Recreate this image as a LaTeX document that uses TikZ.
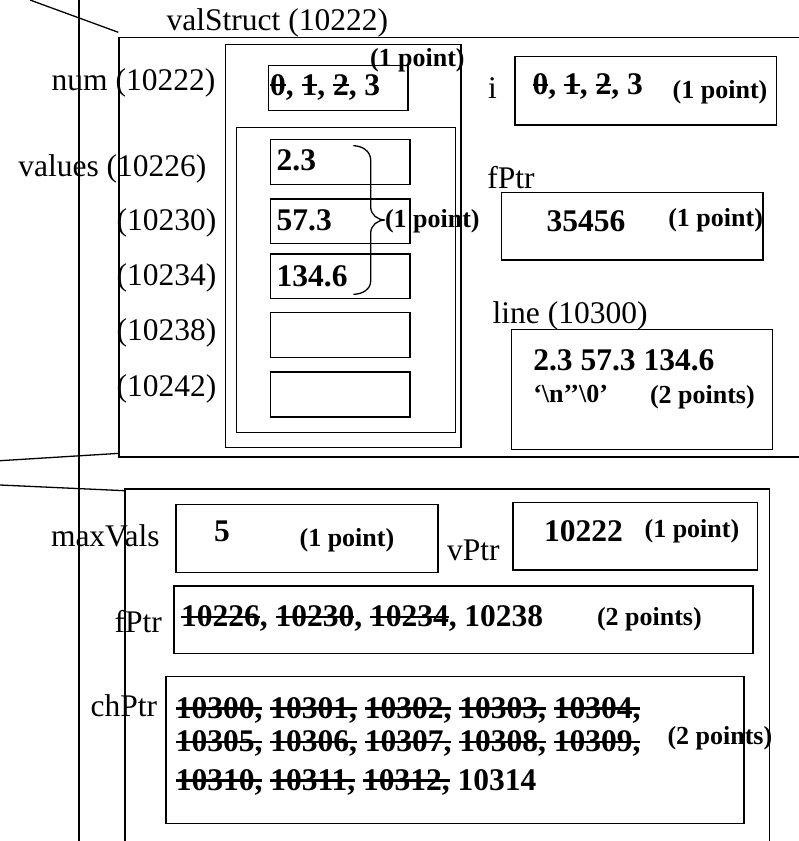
\documentclass[tikz,border=0pt]{standalone}
\usepackage{fontspec}
\setmainfont{Liberation Serif}
\newsavebox\strkbox
% struck-through value: a rule across the middle of the digits
\newcommand\strk[1]{\sbox\strkbox{#1}\rlap{\rule[0.27em]{\wd\strkbox}{0.065em}}\usebox\strkbox}
\tikzset{
  lbl/.style={anchor=base west, inner sep=0pt, outer sep=0pt, font=\fontsize{31.5}{36}\selectfont},
  val/.style={lbl, font=\fontsize{31.5}{36}\selectfont\bfseries},
  pts/.style={lbl, font=\fontsize{26}{30}\selectfont\bfseries},
  quo/.style={lbl, font=\fontsize{26}{30}\selectfont\bfseries},
  box/.style={draw, line width=1.5pt},
  wire/.style={draw, line width=1.3pt},
}
\begin{document}
\begin{tikzpicture}[x=1pt, y=-1pt]
\useasboundingbox (0,0) rectangle (799,841);

% long vertical divider and the slanted guide lines
\coordinate (vtop) at (79,0);
\coordinate (vbot) at (79,841);
\draw[wire] (vtop) -- (vbot);
\coordinate (d1a) at (30,0);
\coordinate (d1b) at (118.3,32.3);
\draw[wire] (d1a) -- (d1b);
\coordinate (d2a) at (0,460.7);
\coordinate (d2b) at (119.7,453.3);
\draw[wire] (d2a) -- (d2b);
\coordinate (d3a) at (0,485);
\coordinate (d3b) at (124.8,490.7);
\draw[wire] (d3a) -- (d3b);

% ---------- valStruct frame ----------
\draw[box] (799,37.3) -- (119,37.3) -- (119,457) -- (799,457);
\node[lbl] (vsname) at (166.7,30.7) {valStruct (10222)};

% struct contents
\draw[box] (225.7,44.3) rectangle (461,447.7);
\draw[box] (236.7,127.7) rectangle (455.7,432.3);

% num
\draw[box] (268.5,65.3) rectangle (408,110.7);
\node[lbl] (numlbl) at (51.7,90) {num (10222)};
\node[val] (numval) at (270,95) {\strk{0}, \strk{1}, \strk{2}, 3};
\node[pts] (numpts) at (370,66) {(1 point)};

% values array
\node[lbl] (vallbl) at (18.3,176.7) {values (10226)};
\draw[box] (270.7,139.3) rectangle (410,184.3);
\draw[box] (270.7,199) rectangle (410,243.3);
\draw[box] (270.7,254) rectangle (410,298.7);
\draw[box] (270.7,312.7) rectangle (410,357.7);
\draw[box] (270.7,372) rectangle (410,417);
\node[val] (v0) at (276.7,170) {2.3};
\node[val] (v1) at (276.7,230) {57.3};
\node[val] (v2) at (276.7,286) {134.6};
\node[lbl] (a1) at (116.7,230) {(10230)};
\node[lbl] (a2) at (116.7,285) {(10234)};
\node[lbl] (a3) at (116.7,340) {(10238)};
\node[lbl] (a4) at (116.7,396.7) {(10242)};

% brace over the three filled cells
\draw[line width=1.3pt] (353.3,145.7) to[out=0,in=90] (370.7,160) -- (370.7,207)
  to[out=-90,in=180] (385,220) to[out=180,in=90] (370.7,233) -- (370.7,281)
  to[out=-90,in=0] (353.3,294.3);
\node[pts] (valpts) at (385,227.7) {(1 point)};

% i
\node[lbl] (ilbl) at (488,98.3) {i};
\draw[box] (515,56.7) rectangle (776.7,125);
\node[val] (ival) at (532.7,94.3) {\strk{0}, \strk{1}, \strk{2}, 3};
\node[pts] (ipts) at (672.7,98) {(1 point)};

% fPtr (pointer inside the struct area)
\node[lbl] (fplbl) at (487.3,188.3) {fPtr};
\draw[box] (501.5,192.3) rectangle (763,260);
\node[val] (fpval) at (546.7,231.7) {35456};
\node[pts] (fppts) at (668.3,226) {(1 point)};

% line buffer
\node[lbl] (linelbl) at (492.7,323.3) {line (10300)};
\draw[box] (511.7,329.3) rectangle (772.3,449.3);
\node[val] (line1) at (533.3,370.7) {2.3 57.3 134.6};
\node[quo] (line2) at (533.3,402.7) {\textquoteleft\textbackslash n\textquoteright\textquoteright\textbackslash 0\textquoteright};
\node[pts] (linepts) at (650,403.3) {(2 points)};

% ---------- lower frame ----------
\draw[box] (124.8,841) -- (124.8,489) -- (769.4,489) -- (769.4,841);

% maxVals
\node[lbl] (mxlbl) at (51,546) {maxVals};
\draw[box] (175.8,504.3) rectangle (438.2,572.7);
\node[val] (mxval) at (214,541) {5};
\node[pts] (mxpts) at (299.6,546) {(1 point)};

% vPtr
\node[lbl] (vplbl) at (447,560) {vPtr};
\draw[box] (513,502.3) rectangle (757.7,570);
\node[val] (vpval) at (544,541) {10222};
\node[pts] (vppts) at (644.6,537) {(1 point)};

% fPtr
\node[lbl] (fp2lbl) at (114.6,632.7) {fPtr};
\draw[box] (173.8,586) rectangle (753,653.3);
\node[val] (fp2val) at (181,626.7) {\strk{10226}, \strk{10230}, \strk{10234}, 10238};
\node[pts] (fp2pts) at (597,625) {(2 points)};

% chPtr
\node[lbl] (chlbl) at (90.7,716.7) {chPtr};
\draw[box] (166,676.7) rectangle (744,823.3);
\node[val] (ch1) at (175.8,718) {\strk{10300,} \strk{10301,} \strk{10302,} \strk{10303,} \strk{10304,}};
\node[val] (ch2) at (175.8,751.7) {\strk{10305,} \strk{10306,} \strk{10307,} \strk{10308,} \strk{10309,}};
\node[val] (ch3) at (175.8,790) {\strk{10310,} \strk{10311,} \strk{10312,} 10314};
\node[pts] (chpts) at (667.5,744) {(2 points)};
\end{tikzpicture}
\end{document}
